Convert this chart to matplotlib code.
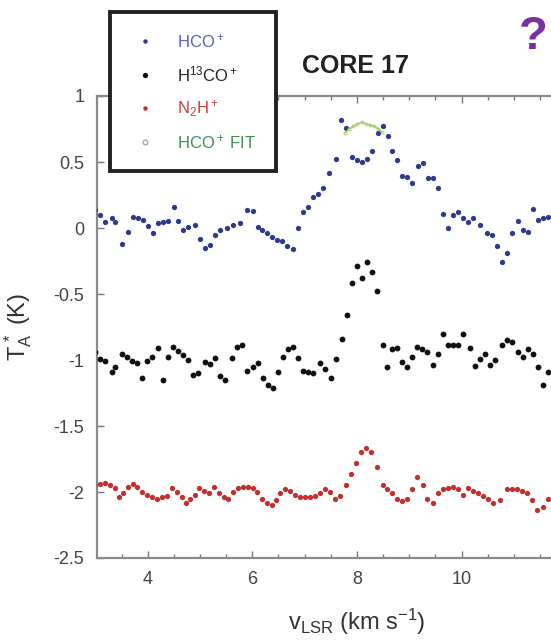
import matplotlib
matplotlib.use('Agg')
import matplotlib.pyplot as plt
from matplotlib.lines import Line2D
from matplotlib.ticker import MultipleLocator, FuncFormatter

plt.rcParams['font.family'] = ['Liberation Sans', 'DejaVu Sans']
plt.rcParams['mathtext.fontset'] = 'custom'
plt.rcParams['mathtext.rm'] = 'Liberation Sans'
plt.rcParams['mathtext.it'] = 'Liberation Sans:italic'
plt.rcParams['mathtext.bf'] = 'Liberation Sans:bold'
plt.rcParams['axes.unicode_minus'] = False

# HCO+ spectrum (baseline at 0 K)
hco_v = [2.99, 3.09, 3.18, 3.32, 3.37, 3.51, 3.62, 3.72, 3.81, 3.91,
         4.01, 4.10, 4.20, 4.29, 4.39, 4.50, 4.58, 4.67, 4.77, 4.90,
         5.00, 5.10, 5.19, 5.29, 5.38, 5.52, 5.63, 5.76, 5.90, 6.01,
         6.11, 6.19, 6.28, 6.38, 6.47, 6.57, 6.66, 6.78, 6.87, 6.97,
         7.06, 7.16, 7.26, 7.35, 7.47, 7.60, 7.70, 7.79, 7.91, 8.00,
         8.10, 8.19, 8.29, 8.40, 8.50, 8.59, 8.67, 8.77, 8.86, 8.96,
         9.05, 9.17, 9.26, 9.36, 9.45, 9.55, 9.65, 9.74, 9.84, 9.93,
         10.03, 10.12, 10.22, 10.35, 10.49, 10.58, 10.68, 10.77, 10.87, 10.96,
         11.08, 11.18, 11.27, 11.37, 11.46, 11.56, 11.65]
hco_t = [0.14, 0.10, 0.045, 0.075, 0.045, -0.12, -0.03, 0.08, 0.075, 0.06,
         0.015, -0.04, 0.04, 0.045, 0.05, 0.16, 0.05, -0.015, 0.01, 0.02,
         -0.08, -0.15, -0.13, -0.05, -0.015, 0.0, 0.02, 0.04, 0.14, 0.13,
         0.01, -0.015, -0.04, -0.07, -0.09, -0.10, -0.14, -0.16, 0.0, 0.12,
         0.16, 0.235, 0.26, 0.30, 0.415, 0.52, 0.82, 0.76, 0.54, 0.515,
         0.50, 0.52, 0.585, 0.72, 0.77, 0.70, 0.585, 0.515, 0.395, 0.39,
         0.34, 0.47, 0.49, 0.38, 0.38, 0.30, 0.105, 0.0, 0.10, 0.12,
         0.075, 0.045, 0.075, 0.02, -0.04, -0.05, -0.14, -0.26, -0.19, -0.04,
         0.05, -0.015, -0.03, 0.145, 0.06, 0.075, 0.08]

# H13CO+ spectrum (offset to -1 K)
h13co_v = [2.99, 3.09, 3.18, 3.32, 3.37, 3.51, 3.60, 3.70, 3.79, 3.89,
           3.99, 4.08, 4.20, 4.29, 4.39, 4.48, 4.58, 4.67, 4.77, 4.87,
           4.96, 5.10, 5.19, 5.29, 5.38, 5.48, 5.61, 5.71, 5.80, 5.90,
           6.01, 6.11, 6.20, 6.30, 6.40, 6.49, 6.59, 6.68, 6.78, 6.87,
           6.97, 7.06, 7.16, 7.29, 7.39, 7.50, 7.60, 7.71, 7.81, 7.91,
           8.00, 8.10, 8.19, 8.29, 8.38, 8.50, 8.57, 8.67, 8.77, 8.86,
           8.96, 9.05, 9.15, 9.24, 9.34, 9.45, 9.55, 9.65, 9.74, 9.84,
           9.93, 10.03, 10.16, 10.26, 10.35, 10.45, 10.54, 10.64, 10.77, 10.87,
           10.96, 11.08, 11.18, 11.27, 11.37, 11.46, 11.56, 11.65]
h13co_t = [-0.94, -0.99, -1.01, -1.09, -1.05, -0.955, -0.98, -1.01, -1.02, -1.14,
           -1.01, -0.98, -0.91, -1.15, -0.98, -0.90, -0.93, -0.96, -1.00, -1.11,
           -1.10, -1.015, -1.03, -0.985, -1.12, -1.15, -0.985, -0.90, -0.89, -1.08,
           -1.05, -1.02, -1.14, -1.19, -1.21, -1.09, -0.98, -0.92, -0.90, -0.985,
           -1.08, -1.09, -1.10, -1.02, -1.07, -1.14, -0.99, -0.84, -0.66, -0.42,
           -0.29, -0.38, -0.26, -0.33, -0.48, -0.89, -1.05, -0.92, -0.91, -1.015,
           -1.05, -0.98, -0.90, -0.92, -0.94, -1.04, -0.955, -0.80, -0.89, -0.89,
           -0.89, -0.80, -0.91, -1.045, -0.99, -0.955, -1.04, -1.00, -0.89, -0.85,
           -0.86, -0.94, -0.98, -0.92, -0.955, -1.05, -1.19, -1.09]

# N2H+ spectrum (offset to -2 K)
n2h_v = [2.99, 3.09, 3.18, 3.28, 3.37, 3.45, 3.53, 3.62, 3.72, 3.79,
         3.89, 3.99, 4.08, 4.18, 4.27, 4.37, 4.46, 4.56, 4.66, 4.73,
         4.81, 4.90, 4.98, 5.08, 5.17, 5.27, 5.36, 5.46, 5.53, 5.63,
         5.73, 5.82, 5.92, 6.01, 6.09, 6.18, 6.28, 6.38, 6.45, 6.53,
         6.62, 6.72, 6.82, 6.91, 7.01, 7.10, 7.20, 7.29, 7.39, 7.49,
         7.58, 7.68, 7.79, 7.89, 7.98, 8.08, 8.17, 8.27, 8.38, 8.50,
         8.57, 8.67, 8.77, 8.86, 8.96, 9.05, 9.15, 9.26, 9.34, 9.45,
         9.55, 9.65, 9.74, 9.84, 9.93, 10.03, 10.12, 10.22, 10.32, 10.41,
         10.51, 10.60, 10.74, 10.87, 10.96, 11.06, 11.16, 11.25, 11.35, 11.44,
         11.56, 11.65]
n2h_t = [-1.95, -1.94, -1.93, -1.95, -1.97, -2.04, -2.01, -1.96, -1.94, -1.96,
         -2.00, -2.02, -2.04, -2.05, -2.04, -2.03, -1.97, -2.00, -2.04, -2.08,
         -2.05, -2.02, -1.97, -1.99, -2.01, -1.96, -2.01, -2.04, -2.05, -2.00,
         -1.97, -1.96, -1.96, -1.97, -2.00, -2.05, -2.08, -2.10, -2.06, -2.01,
         -1.98, -1.99, -2.02, -2.04, -2.04, -2.04, -2.03, -2.01, -1.98, -2.00,
         -2.05, -2.03, -1.95, -1.86, -1.78, -1.70, -1.67, -1.70, -1.81, -1.95,
         -1.98, -2.01, -2.05, -2.07, -2.05, -1.98, -1.89, -1.95, -2.05, -2.08,
         -2.01, -1.98, -1.97, -1.96, -1.98, -2.02, -1.97, -1.99, -2.01, -2.03,
         -2.05, -2.08, -2.06, -1.98, -1.98, -1.98, -1.99, -2.01, -2.06, -2.14,
         -2.11, -2.05]

# Gaussian fit to the HCO+ peak
fit_v = [7.77, 7.85, 7.93, 8.01, 8.09, 8.17, 8.25, 8.33, 8.41, 8.48]
fit_t = [0.72, 0.75, 0.77, 0.79, 0.80, 0.79, 0.78, 0.77, 0.75, 0.73]

x_ticks = [4, 6, 8, 10]

blue = '#2e3a8c'
red = '#c3302b'
black = '#111111'
fit_green = '#9ccc6a'

fig = plt.figure(figsize=(5.51, 6.43), dpi=100)
ax = fig.add_axes([97 / 551, 85 / 643, 523 / 551, 462 / 643])

ax.plot(hco_v, hco_t, 'o', color=blue, ms=3.8, mec='none', zorder=3)
ax.plot(h13co_v, h13co_t, 'o', color=black, ms=4.2, mec='none', zorder=3)
ax.plot(n2h_v, n2h_t, 'o', color=red, ms=3.8, mec='none', zorder=3)
ax.plot(fit_v, fit_t, '-o', color=fit_green, lw=1.0, ms=2.2, mfc='none', mew=0.6, zorder=4)

ax.set_xlim(3.03, 13.03)
ax.set_ylim(-2.5, 1)
ax.set_xticks(x_ticks)
ax.xaxis.set_minor_locator(MultipleLocator(0.5))
ax.yaxis.set_major_locator(MultipleLocator(0.5))
ax.yaxis.set_major_formatter(FuncFormatter(lambda y, p: '%g' % y))

ax.tick_params(which='both', direction='in', top=True, right=True,
               color='#777777', labelcolor='#444444', labelsize=13, width=1.0)
ax.tick_params(which='major', length=5, pad=9)
ax.tick_params(which='minor', length=3)
for sp in ax.spines.values():
    sp.set_color('#8a8a8a')
    sp.set_linewidth(1.6)

fig.text(18 / 551, 1 - 327 / 643, r'$\mathrm{T_A^{\,*}}$ (K)', rotation=90,
         ha='center', va='center', fontsize=17, color='#333333')
fig.text(357 / 551, 1 - 622 / 643, r'$\mathrm{v_{LSR}}$ (km s$^{-1}$)',
         ha='center', va='center', fontsize=17, color='#333333')

fig.text(355 / 551, 1 - 66 / 643, 'CORE 17', ha='center', va='center',
         fontsize=18, fontweight='bold', color='#222222')
fig.text(533 / 551, 1 - 37 / 643, '?', ha='center', va='center',
         fontsize=34, fontweight='bold', color='#7a2fa3')

handles = [
    Line2D([], [], ls='none', marker='o', ms=3.2, color=blue, mec='none'),
    Line2D([], [], ls='none', marker='o', ms=3.8, color=black, mec='none'),
    Line2D([], [], ls='none', marker='o', ms=3.2, color=red, mec='none'),
    Line2D([], [], ls='none', marker='o', ms=3.5, mfc='white', mec='#999999', mew=0.8),
]
labels = ['HCO$^+$', 'H$^{13}$CO$^+$', 'N$_2$H$^+$', 'HCO$^+$ FIT']
leg = fig.legend(handles, labels, loc='upper left',
                 bbox_to_anchor=(110 / 551, 1 - 12 / 643), borderaxespad=0,
                 fontsize=12, frameon=True, fancybox=False, framealpha=1,
                 edgecolor='#222222', borderpad=1.2, handlelength=1.8,
                 handletextpad=1.0, labelspacing=0.85)
leg.get_frame().set_linewidth(2.8)
for txt, c in zip(leg.get_texts(), ['#5b5fb0', '#222222', '#cc3b3b', '#3f8f4f']):
    txt.set_color(c)

fig.savefig('out.png', dpi=100)
